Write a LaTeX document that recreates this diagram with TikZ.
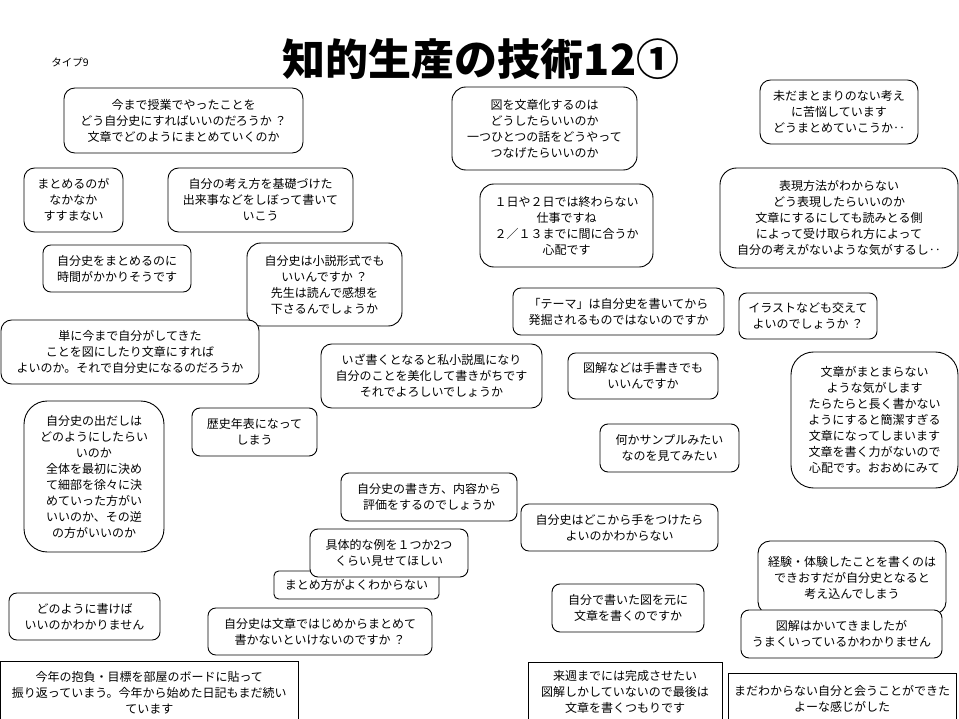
\documentclass[tikz,border=0pt]{standalone}
\usepackage{fontspec}
\setmainfont{Noto Sans CJK JP}
\tikzset{
  qbox/.style={draw=black, fill=white, line width=0.9pt, inner sep=0pt, align=center,
    font=\fontsize{12}{16}\selectfont},
  titletext/.style={inner sep=0pt, font=\fontsize{43}{43}\selectfont\bfseries},
  smalltext/.style={inner sep=0pt, font=\fontsize{10.5}{12}\selectfont}
}
\newcommand\qb[7][]{%
  \pgfmathsetmacro\qbw{#5-#3}%
  \pgfmathsetmacro\qbh{#6-#4}%
  \pgfmathsetmacro\qbr{min(\qbw,\qbh)/6}%
  \pgfmathsetmacro\qbx{(#3+#5)/2}%
  \pgfmathsetmacro\qby{(#4+#6)/2}%
  \node[qbox, minimum width=\qbw pt, minimum height=\qbh pt, rounded corners=\qbr pt, #1] (#2) at (\qbx,\qby) {#7};%
}
\begin{document}
\begin{tikzpicture}[x=1pt,y=-1pt]
\useasboundingbox (0,0) rectangle (959,719);
\fill[white] (0,0) rectangle (959,719);
\clip (0,0) rectangle (959,719);
\node[smalltext] (type) at (70,62) {タイプ9};
\node[titletext] (title) at (481,59) {知的生産の技術12①};
\qb{t1}{64}{88}{303}{153}{今まで授業でやったことを\\どう自分史にすればいいのだろうか ？\\文章でどのようにまとめていくのか}
\qb{t2}{24}{168}{123}{232}{まとめるのが\\なかなか\\すすまない}
\qb{t3}{168}{168}{353}{232}{自分の考え方を基礎づけた\\出来事などをしぼって書いて\\いこう}
\qb{t4}{452}{87}{637}{170}{図を文章化するのは\\どうしたらいいのか\\一つひとつの話をどうやって\\つなげたらいいのか}
\qb{t5}{760}{80}{918}{144}{未だまとまりのない考え\\に苦悩しています\\どうまとめていこうか‥}
\qb{t6}{480}{184}{653}{267}{１日や２日では終わらない\\仕事ですね\\２／１３までに間に合うか\\心配です}
\qb{t7}{720}{168}{958}{268}{表現方法がわからない\\どう表現したらいいのか\\文章にするにしても読みとる側\\によって受け取られ方によって\\自分の考えがないような気がするし‥}
\qb{t8}{43}{245}{191}{292}{自分史をまとめるのに\\時間がかかりそうです}
\qb{t9}{247}{243}{402}{326}{自分史は小説形式でも\\いいんですか ？\\先生は読んで感想を\\下さるんでしょうか}
\qb{t10}{1}{320}{259}{384}{単に今まで自分がしてきた\\ことを図にしたり文章にすれば\\よいのか。それで自分史になるのだろうか}
\qb{t11}{321}{344}{542}{408}{いざ書くとなると私小説風になり\\自分のことを美化して書きがちです\\それでよろしいでしょうか}
\qb{t12}{513}{288}{724}{335}{「テーマ」は自分史を書いてから\\発掘されるものではないのですか}
\qb{t13}{739}{293}{877}{339}{イラストなども交えて\\よいのでしょうか ？}
\qb{t14}{568}{353}{718}{399}{図解などは手書きでも\\いいんですか}
\qb{t15}{600}{424}{739}{472}{何かサンプルみたい\\なのを見てみたい}
\qb{t16}{791}{352}{958}{488}{文章がまとまらない\\ような気がします\\たらたらと長く書かない\\ようにすると簡潔すぎる\\文章になってしまいます\\文章を書く力がないので\\心配です。おおめにみて}
\qb{t17}{24}{401}{164}{552}{自分史の出だしは\\どのようにしたらい\\いのか\\全体を最初に決め\\て細部を徐々に決\\めていった方がい\\いいのか、その逆\\の方がいいのか}
\qb{t18}{192}{408}{317}{456}{歴史年表になって\\しまう}
\qb{t19}{341}{473}{517}{521}{自分史の書き方、内容から\\評価をするのでしょうか}
\qb{t20}{521}{504}{718}{551}{自分史はどこから手をつけたら\\よいのかわからない}
\qb{t21}{274}{571}{439}{599}{まとめ方がよくわからない}
\qb{t22}{310}{529}{468}{577}{具体的な例を１つか2つ\\くらい見せてほしい}
\qb{t23}{9}{593}{160}{640}{どのように書けば\\いいのかわかりません}
\qb{t24}{208}{608}{432}{655}{自分史は文章ではじめからまとめて\\書かないといけないのですか ？}
\qb[sharp corners]{t25}{0.5}{661}{298}{725}{今年の抱負・目標を部屋のボードに貼って\\振り返っていまう。今年から始めた日記もまだ続い\\ています}
\qb{t26}{758}{541}{946}{614}{経験・体験したことを書くのは\\できおすだが自分史となると\\考え込んでしまう}
\qb{t27}{552}{584}{704}{632}{自分で書いた図を元に\\文章を書くのですか}
\qb{t28}{741}{610}{942}{658}{図解はかいてきましたが\\うまくいっているかわかりません}
\qb[sharp corners]{t29}{528}{662}{722}{721}{来週までには完成させたい\\図解しかしていないので最後は\\文章を書くつもりです}
\qb[sharp corners]{t30}{728}{673}{956}{724}{まだわからない自分と会うことができた\\よーな感じがした}
\end{tikzpicture}
\end{document}
